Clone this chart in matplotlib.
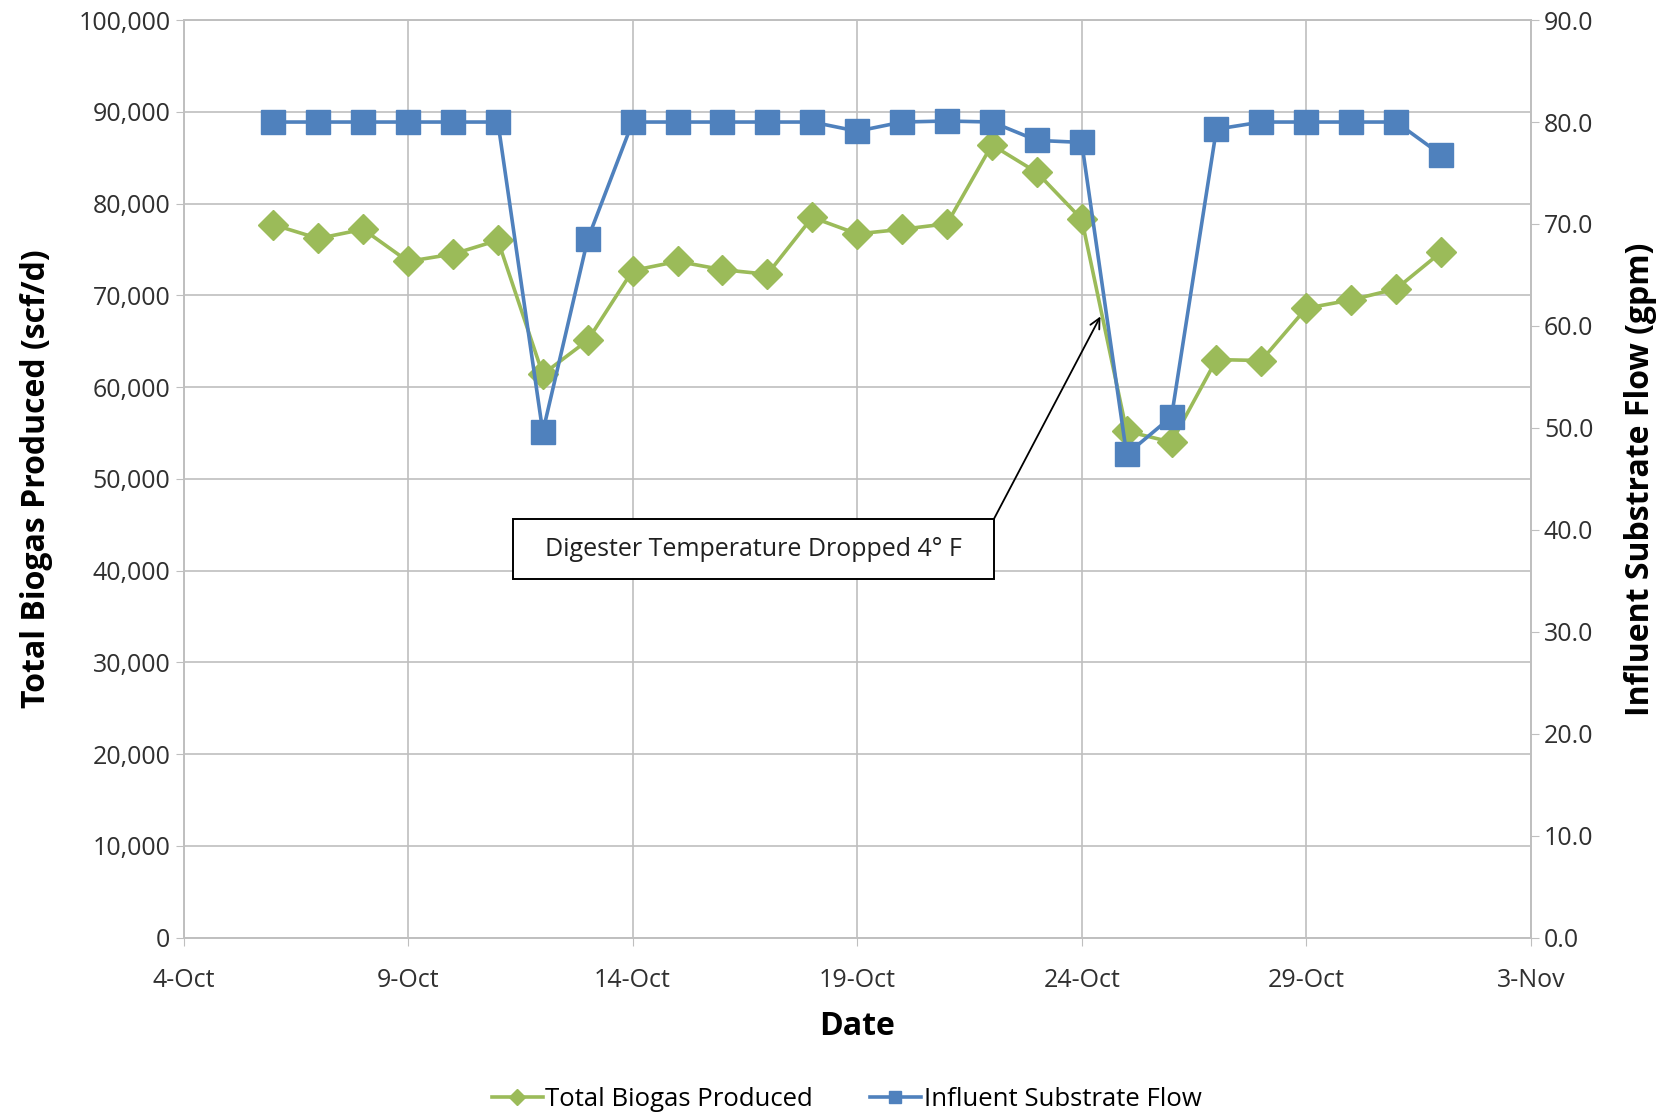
import datetime as dt
import matplotlib
matplotlib.use("Agg")
import matplotlib.pyplot as plt
import matplotlib.dates as mdates
from matplotlib.patches import Rectangle
from matplotlib.ticker import FuncFormatter, MultipleLocator

plt.rcParams['font.family'] = ['Open Sans', 'DejaVu Sans']

# daily readings, 6-Oct to 1-Nov
start_day = dt.date(2013, 10, 6)
dates = [start_day + dt.timedelta(days=i) for i in range(27)]

biogas = [77700, 76200, 77200, 73700, 74500, 76000, 61400, 65100, 72700,
          73700, 72800, 72300, 78500, 76700, 77200, 77800, 86400, 83400,
          78300, 55200, 54000, 63000, 62900, 68600, 69500, 70700, 74700]

flow = [80.0, 80.0, 80.0, 80.0, 80.0, 80.0, 49.6, 68.5, 80.0,
        80.0, 80.0, 80.0, 80.0, 79.1, 80.0, 80.1, 80.0, 78.2,
        78.0, 47.4, 51.1, 79.3, 80.0, 80.0, 80.0, 80.0, 76.8]

note_text = 'Digester Temperature Dropped 4° F'

green = '#9BBB59'
blue = '#4F81BD'
grid_col = '#BFBFBF'

fig = plt.figure(figsize=(16.73, 11.15), dpi=100)
ax = fig.add_axes([0.1097, 0.159, 0.8053, 0.823])
ax2 = ax.twinx()

ax.plot(dates, biogas, color=green, lw=2.6, marker='D', ms=15,
        label='Total Biogas Produced', zorder=3)
ax2.plot(dates, flow, color=blue, lw=2.6, marker='s', ms=17,
         label='Influent Substrate Flow', zorder=3)

ax.set_xlim(dt.date(2013, 10, 4), dt.date(2013, 11, 3))
ax.set_ylim(0, 100000)
ax2.set_ylim(0, 90)

ax.xaxis.set_major_locator(mdates.DayLocator(bymonthday=[4, 9, 14, 19, 24, 29, 3]))
ax.xaxis.set_major_formatter(mdates.DateFormatter('%-d-%b'))
ax.yaxis.set_major_locator(MultipleLocator(10000))
ax.yaxis.set_major_formatter(FuncFormatter(lambda v, p: '{:,.0f}'.format(v)))
ax2.yaxis.set_major_locator(MultipleLocator(10))
ax2.yaxis.set_major_formatter(FuncFormatter(lambda v, p: '{:.1f}'.format(v)))

ax.grid(True, color=grid_col, lw=1.2)
ax.set_axisbelow(True)
for a in (ax, ax2):
    for s in a.spines.values():
        s.set_color(grid_col)
        s.set_linewidth(1.2)
    a.tick_params(colors='#303030', labelsize=18, length=6, color=grid_col)
ax.tick_params(axis='x', pad=16)

ax.set_xlabel('Date', fontsize=23, fontweight='bold', labelpad=12)
ax.set_ylabel('Total Biogas Produced (scf/d)', fontsize=23, fontweight='bold', labelpad=18)
ax2.set_ylabel('Influent Substrate Flow (gpm)', fontsize=23, fontweight='bold', labelpad=22)

# callout box with arrow
box_x0 = mdates.date2num(dt.datetime(2013, 10, 11, 8))
box_x1 = mdates.date2num(dt.datetime(2013, 10, 22, 1))
box_y0, box_y1 = 39100, 45600
ax.add_patch(Rectangle((box_x0, box_y0), box_x1 - box_x0, box_y1 - box_y0,
                       fc='white', ec='black', lw=1.4, zorder=5))
ax.text((box_x0 + box_x1) / 2, (box_y0 + box_y1) / 2, note_text,
        ha='center', va='center', fontsize=18, color='#202020', zorder=6)
ax.annotate('', xy=(dt.datetime(2013, 10, 24, 10), 67700),
            xytext=(box_x1, box_y1),
            arrowprops=dict(arrowstyle='->', color='black', lw=1.3,
                            shrinkA=0, shrinkB=0, mutation_scale=18),
            zorder=6)

h1, l1 = ax.get_legend_handles_labels()
h2, l2 = ax2.get_legend_handles_labels()
fig.legend(h1 + h2, l1 + l2, loc='center', bbox_to_anchor=(0.506, 0.0135),
           ncol=2, frameon=False, fontsize=18.5, markerscale=0.55,
           handlelength=2.0, columnspacing=2.2, handletextpad=0.1)

fig.savefig('out.png', dpi=100)
